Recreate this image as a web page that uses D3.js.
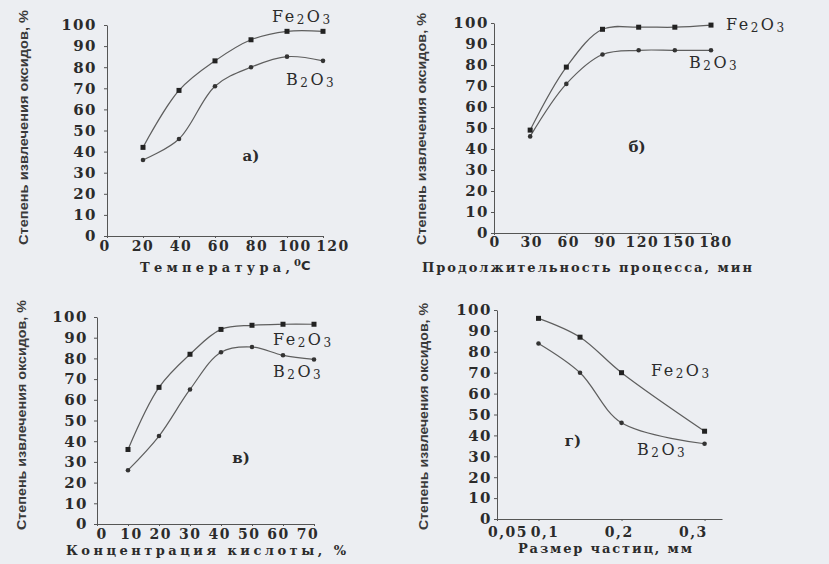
<!DOCTYPE html>
<html>
<head>
<meta charset="utf-8">
<script src="https://cdn.jsdelivr.net/npm/d3@7"></script>
<style>
  body { margin: 0; background: #eceef2; }
  svg { display: block; }
  .tick text { font-family: "DejaVu Serif", serif; font-weight: bold; font-size: 15px; fill: #2b2b2b; letter-spacing: 1.5px; }
</style>
</head>
<body>
<svg id="chart" width="829" height="564"></svg>
<script>
// Panel a) temperature
const tempX = [20, 40, 60, 80, 100, 120];
const tempFe = [42, 69, 83, 93, 97, 97];
const tempB = [36, 46, 71, 80, 85, 83];
const tempTicks = [0, 20, 40, 60, 80, 100, 120];

// Panel б) duration
const timeX = [30, 60, 90, 120, 150, 180];
const timeFe = [49, 79, 97, 98, 98, 99];
const timeB = [46, 71, 85, 87, 87, 87];
const timeTicks = [0, 30, 60, 90, 120, 150, 180];

// Panel в) acid concentration
const concX = [10, 20, 30, 40, 50, 60, 70];
const concFe = [36, 66, 82, 94, 96, 96.5, 96.5];
const concB = [26, 42.5, 65, 83, 85.5, 81.5, 79.5];
const concTicks = [0, 10, 20, 30, 40, 50, 60, 70];

// Panel г) particle size
const sizeX = [0.1, 0.15, 0.2, 0.3];
const sizeFe = [96, 87, 70, 42];
const sizeB = [84, 70, 46, 36];
const sizeTicks = [0.05, 0.1, 0.2, 0.3];

const yTicks = [0, 10, 20, 30, 40, 50, 60, 70, 80, 90, 100];
const yTitle = "Степень извлечения оксидов, %";

const svg = d3.select("#chart");
svg.append("rect").attr("width", 829).attr("height", 564).attr("fill", "#eceef2");

const panels = [
  { x: tempX, fe: tempFe, b: tempB, ticks: tempTicks, domain: [0, 120],
    xr: [107, 323], yr: [236, 25], lr: [105, 333], ly: 247, pad: 7,
    title: "Температура, ", tx: 140, ty: 268, tl: 150, sup: true,
    ytx: 25, yty: [245, 10],
    letter: "а)", lx: 251, lyy: 157,
    feLab: [272, 17], bLab: [286, 80] },
  { x: timeX, fe: timeFe, b: timeB, ticks: timeTicks, domain: [0, 180],
    xr: [494, 711], yr: [233, 23], lr: [495, 716], ly: 243, pad: 2,
    title: "Продолжительность процесса, мин", tx: 422, ty: 268, tl: 330,
    ytx: 423, yty: [245, 13],
    letter: "б)", lx: 637, lyy: 148,
    feLab: [726, 25], bLab: [689, 63] },
  { x: concX, fe: concFe, b: concB, ticks: concTicks, domain: [0, 70],
    xr: [97, 314], yr: [524, 317], lr: [102, 308], ly: 535, pad: 6,
    title: "Концентрация кислоты, %", tx: 66, ty: 551, tl: 280,
    ytx: 23, yty: [530, 300],
    letter: "в)", lx: 241, lyy: 459,
    feLab: [273, 340], bLab: [273, 372] },
  { x: sizeX, fe: sizeFe, b: sizeB, ticks: sizeTicks, domain: [0.05, 0.321],
    xr: [497, 722], yr: [519, 310], lr: [508, 709], ly: 533, pad: 2,
    title: "Размер частиц, мм", tx: 518, ty: 549, tl: 174,
    ytx: 425, yty: [530, 303],
    letter: "г)", lx: 573, lyy: 442,
    feLab: [651, 371], bLab: [637, 450] }
];

const ink = "#2b2b2b";

panels.forEach((p) => {
  const g = svg.append("g");
  const x = d3.scaleLinear().domain(p.domain).range(p.xr);
  const y = d3.scaleLinear().domain([0, 100]).range(p.yr);

  // y axis
  const ya = g.append("g")
    .attr("transform", `translate(${p.xr[0]},0)`)
    .call(d3.axisLeft(y).tickValues(yTicks).tickSize(3).tickPadding(p.pad).tickSizeOuter(0));
  ya.selectAll("path, line").attr("stroke", "#555");

  // x axis (marks only, labels placed separately)
  const xa = g.append("g")
    .attr("transform", `translate(0,${p.yr[0]})`)
    .call(d3.axisBottom(x).tickValues(p.ticks).tickSize(2).tickFormat("").tickSizeOuter(0));
  xa.selectAll("path, line").attr("stroke", "#555");

  const lx = d3.scaleLinear().domain(p.domain).range(p.lr);
  g.selectAll(".xl").data(p.ticks).join("text")
    .attr("x", (d) => lx(d))
    .attr("y", p.ly)
    .attr("text-anchor", "middle")
    .attr("dominant-baseline", "middle")
    .style("font-family", "DejaVu Serif, serif")
    .style("font-weight", "bold")
    .style("font-size", "14px")
    .style("letter-spacing", "1.5px")
    .attr("fill", ink)
    .text((d) => String(d).replace(".", ","));

  // x title
  g.append("text")
    .attr("x", p.tx).attr("y", p.ty)
    .attr("dominant-baseline", "middle")
    .style("font-family", "DejaVu Serif, serif")
    .style("font-weight", "bold")
    .style("font-size", "13px")
    .attr("fill", ink)
    .attr("textLength", p.tl)
    .attr("lengthAdjust", "spacing")
    .text(p.title);
  if (p.sup) {
    g.append("text")
      .attr("x", p.tx + p.tl + 4).attr("y", p.ty - 5)
      .attr("dominant-baseline", "middle")
      .style("font-family", "DejaVu Serif, serif")
      .style("font-weight", "bold")
      .style("font-size", "10px")
      .attr("fill", ink)
      .text("0");
    g.append("text")
      .attr("x", p.tx + p.tl + 11).attr("y", p.ty - 2)
      .attr("dominant-baseline", "middle")
      .style("font-family", "DejaVu Sans, sans-serif")
      .style("font-weight", "bold")
      .style("font-size", "13px")
      .attr("fill", ink)
      .text("C");
  }

  // y title (rotated)
  g.append("text")
    .attr("transform", `translate(${p.ytx},${p.yty[0]}) rotate(-90)`)
    .attr("dominant-baseline", "middle")
    .style("font-family", "Liberation Sans Narrow, Liberation Sans, sans-serif")
    .style("font-weight", "bold")
    .style("font-size", "13px")
    .attr("fill", "#3a3a3a")
    .attr("textLength", p.yty[0] - p.yty[1])
    .attr("lengthAdjust", "spacingAndGlyphs")
    .text(yTitle);

  // series
  const line = d3.line().x((d) => x(d[0])).y((d) => y(d[1])).curve(d3.curveCatmullRom.alpha(0.5));
  const feData = p.x.map((v, i) => [v, p.fe[i]]);
  const bData = p.x.map((v, i) => [v, p.b[i]]);

  [feData, bData].forEach((data) => {
    g.append("path").datum(data)
      .attr("d", line)
      .attr("fill", "none")
      .attr("stroke", "#5e5e5e")
      .attr("stroke-width", 1.2);
  });

  g.selectAll(".fe").data(feData).join("rect")
    .attr("x", (d) => x(d[0]) - 2.5)
    .attr("y", (d) => y(d[1]) - 2.5)
    .attr("width", 5).attr("height", 5)
    .attr("fill", "#222");

  g.selectAll(".bm").data(bData).join("circle")
    .attr("cx", (d) => x(d[0]))
    .attr("cy", (d) => y(d[1]))
    .attr("r", 2.3)
    .attr("fill", "#333");

  // series labels
  function formula(pos, el) {
    const tx = g.append("text")
      .attr("x", pos[0]).attr("y", pos[1])
      .attr("dominant-baseline", "middle")
      .style("font-family", "DejaVu Serif, serif")
      .style("font-size", "16px")
      .style("letter-spacing", "2.5px")
      .attr("fill", ink);
    tx.append("tspan").text(el);
    tx.append("tspan").attr("dy", 3).style("font-size", "12px").text("2");
    tx.append("tspan").attr("dy", -3).text("O");
    tx.append("tspan").attr("dy", 3).style("font-size", "12px").text("3");
  }
  formula(p.feLab, "Fe");
  formula(p.bLab, "B");

  // panel letter
  g.append("text")
    .attr("x", p.lx).attr("y", p.lyy)
    .attr("text-anchor", "middle")
    .attr("dominant-baseline", "middle")
    .style("font-family", "DejaVu Serif, serif")
    .style("font-weight", "bold")
    .style("font-size", "15px")
    .attr("fill", ink)
    .text(p.letter);
});
</script>
</body>
</html>
